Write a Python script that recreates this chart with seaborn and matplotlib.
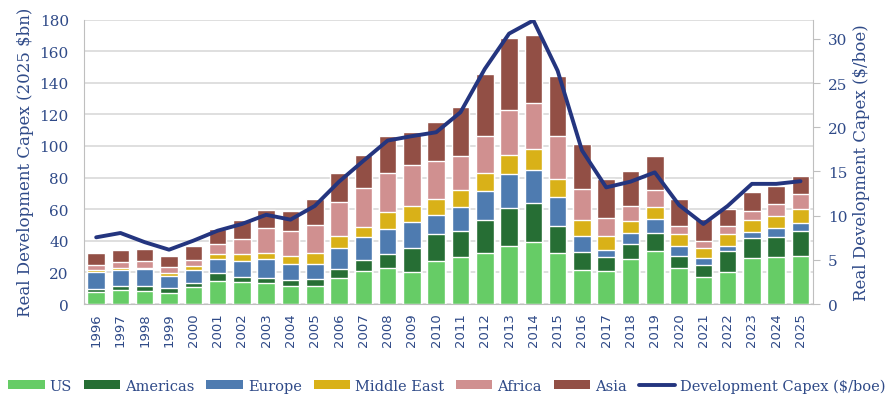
import numpy as np
import matplotlib
matplotlib.use("Agg")
import matplotlib.pyplot as plt
from matplotlib.patches import Patch
from matplotlib.lines import Line2D
import seaborn as sns

# Dane
years = [str(y) for y in range(1996, 2026)]

us = [7.4, 8.8, 8.4, 6.7, 10.5, 14.7, 13.7, 13.0, 11.4, 11.2,
      16.4, 21.1, 22.9, 20.0, 27.2, 29.9, 32.6, 36.4, 39.4, 32.6,
      21.6, 20.6, 28.4, 33.5, 22.5, 16.8, 20.2, 29.1, 29.9, 30.7]
americas = [2.1, 2.6, 3.0, 3.2, 3.0, 4.7, 3.6, 3.4, 3.8, 4.6,
            5.9, 6.7, 8.7, 15.4, 16.8, 16.2, 20.5, 24.2, 24.4, 16.7,
            11.6, 9.1, 9.5, 11.6, 8.0, 8.0, 13.3, 12.4, 12.8, 15.8]
europe = [10.5, 10.1, 10.5, 7.8, 8.0, 9.2, 10.1, 11.8, 10.1, 9.8,
          13.3, 14.3, 15.6, 16.2, 12.2, 15.4, 18.7, 21.5, 20.8, 18.1,
          9.6, 4.8, 6.9, 8.6, 6.3, 4.5, 3.3, 3.8, 5.1, 4.9]
middle_east = [1.5, 1.2, 1.1, 1.7, 2.3, 3.0, 4.4, 4.0, 4.8, 6.7,
               7.6, 6.7, 10.9, 10.5, 10.5, 10.5, 11.1, 12.0, 13.3, 11.8,
               10.2, 8.4, 7.8, 8.0, 7.4, 6.1, 7.2, 7.8, 8.0, 9.0]
africa = [3.5, 3.8, 4.4, 3.8, 4.0, 6.3, 9.2, 16.0, 16.0, 17.8,
          21.4, 24.3, 25.1, 25.7, 23.6, 21.9, 23.2, 28.4, 29.3, 27.1,
          20.0, 11.4, 9.5, 10.5, 4.9, 4.4, 5.1, 5.8, 7.8, 9.1]
asia = [7.2, 7.8, 7.3, 7.5, 9.0, 9.5, 12.3, 11.4, 12.6, 16.6,
        18.6, 21.2, 23.1, 21.0, 24.9, 30.9, 39.6, 45.9, 43.3, 37.7,
        28.0, 25.1, 22.3, 21.5, 17.6, 13.9, 10.9, 12.0, 11.1, 11.6]
capex_boe = [7.55, 8.04, 7.0, 6.15, 7.17, 8.3, 9.06, 10.1, 9.55, 11.1,
             13.85, 16.2, 18.5, 19.0, 19.44, 21.7, 26.6, 30.6, 32.1, 26.4,
             17.4, 13.2, 13.85, 14.9, 11.2, 9.06, 11.1, 13.6, 13.6, 13.9]

regions = ["US", "Americas", "Europe", "Middle East", "Africa", "Asia"]
colors = ["#66CC66", "#266E34", "#4E7BB0", "#D9B118", "#D09090", "#924F45"]
navy = "#24357F"
text_blue = "#2F4A88"

sns.set_style("white")
plt.rcParams["font.family"] = ["DejaVu Serif"]

fig, ax = plt.subplots(figsize=(8.94, 4.10), dpi=100)
fig.subplots_adjust(left=0.094, right=0.909, top=0.95, bottom=0.256)

# Słupki skumulowane - rysowane od góry do dołu
tops = np.cumsum(np.array([us, americas, europe, middle_east, africa, asia]), axis=0)
for i in range(len(regions) - 1, -1, -1):
    sns.barplot(x=years, y=tops[i], color=colors[i], saturation=1,
                width=0.72, ax=ax, zorder=2)

ax.set_xlim(-0.5, len(years) - 0.5)
ax.set_ylim(0, 180)
ax.set_yticks(range(0, 181, 20))
ax.grid(axis="y", color="#D9D9D9", linewidth=1.2, zorder=0)
ax.set_axisbelow(True)
ax.set_ylabel("Real Development Capex (2025 $bn)", color=text_blue, fontsize=12)
ax.tick_params(axis="y", colors=text_blue, labelsize=11, length=0, pad=11)
ax.tick_params(axis="x", labelsize=9.5, length=0, pad=6, labelcolor=text_blue)
plt.setp(ax.get_xticklabels(), rotation=90, family="DejaVu Sans")
ax.set_xlabel("")
for s in ["left", "bottom"]:
    ax.spines[s].set_color("#BFBFBF")
for s in ["top", "right"]:
    ax.spines[s].set_visible(False)

# Linia na osi prawej
ax2 = ax.twinx()
sns.lineplot(x=np.arange(len(years)), y=capex_boe, color=navy, linewidth=2.8, ax=ax2)
ax2.set_ylim(0, 32.2)
ax2.set_yticks(range(0, 31, 5))
ax2.set_ylabel("Real Development Capex ($/boe)", color=text_blue, fontsize=12)
ax2.tick_params(axis="y", colors=text_blue, labelsize=11, length=5, pad=6)
ax2.tick_params(axis="y", color="#BFBFBF")
for lab in ax2.get_yticklabels():
    lab.set_color(text_blue)
ax2.spines["right"].set_color("#BFBFBF")
for s in ["top", "left", "bottom"]:
    ax2.spines[s].set_visible(False)
ax2.grid(False)

handles = [Patch(facecolor=c, edgecolor="none") for c in colors]
handles.append(Line2D([], [], color=navy, linewidth=2.8))
labels = regions + ["Development Capex ($/boe)"]
leg = fig.legend(handles, labels, loc="center", bbox_to_anchor=(0.5, 0.057), ncol=7,
                 frameon=False, fontsize=10.5, handlelength=2.5, handleheight=0.55,
                 handletextpad=0.35, columnspacing=0.8)
for t in leg.get_texts():
    t.set_color(text_blue)

fig.savefig("out.png", dpi=100)
